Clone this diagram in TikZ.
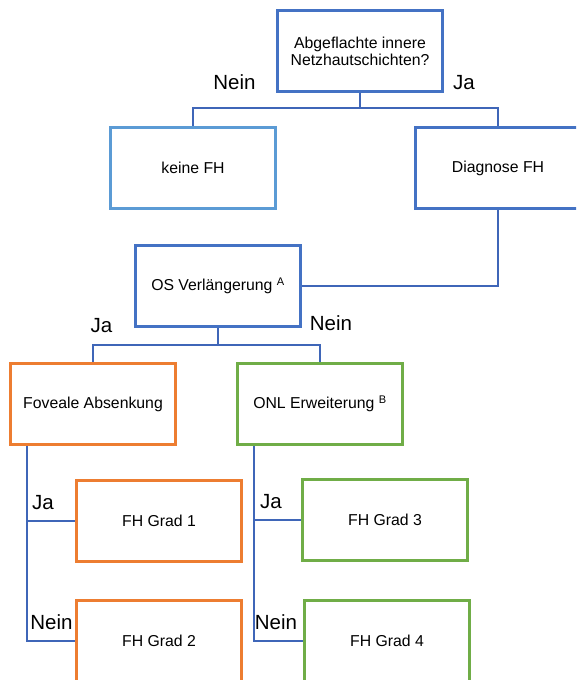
\documentclass[tikz,border=0pt]{standalone}
\usepackage{fontspec}
\setmainfont{Liberation Sans}
\usetikzlibrary{positioning,calc}
\definecolor{boxblue}{HTML}{4472C4}
\definecolor{lightblue}{HTML}{5B9BD5}
\definecolor{lineblue}{HTML}{3F66B8}
\definecolor{boxorange}{HTML}{ED7D31}
\definecolor{boxgreen}{HTML}{70AD47}
\newcommand{\boxfont}{\fontsize{15.8}{16.9}\selectfont}
\newcommand{\lblfont}{\fontsize{20.5}{22}\selectfont}

\begin{document}
\begin{tikzpicture}[x=1pt, y=-1pt]
  \tikzstyle{box}=[draw=boxblue, line width=3pt, align=center, minimum width=165pt, minimum height=81pt, inner sep=0pt, fill=white, font=\boxfont]
  \tikzstyle{lbl}=[font=\lblfont, anchor=base, inner sep=0pt]
  \tikzstyle{link}=[draw=lineblue, line width=2.4pt]
  \clip (0,0) rectangle (576,680);

  % question and first split
  \node[box] (frage) at (360,51) {Abgeflachte innere\\Netzhautschichten?};
  \node[box, draw=lightblue] (keine) at (193,168) {keine FH};
  \node[box] (diag) at (498,168) {Diagnose FH};
  \draw[link] (frage.south) -- ++(0,15) -| (keine.north);
  \draw[link] (frage.south) -- ++(0,15) -| (diag.north);
  \node[lbl] (neinA) at (234.5,89) {Nein};
  \node[lbl] (jaA) at (464,89) {Ja};

  % OS
  \node[box] (os) at (218,286) {OS Verlängerung \textsuperscript{A}};
  \draw[link] (diag.south) |- (os.east);
  \node[box, draw=boxorange] (fov) at (93,404) {Foveale Absenkung};
  \node[box, draw=boxgreen] (onl) at (320,404) {ONL Erweiterung \textsuperscript{B}};
  \draw[link] (os.south) -- ++(0,17) -| (fov.north);
  \draw[link] (os.south) -- ++(0,17) -| (onl.north);
  \node[lbl] (jaB) at (101.5,332) {Ja};
  \node[lbl] (neinB) at (331,330) {Nein};

  % grades
  \node[box, draw=boxorange] (gradone) at (159,521) {FH Grad 1};
  \node[box, draw=boxorange] (gradtwo) at (159,641) {FH Grad 2};
  \node[box, draw=boxgreen] (gradthree) at (385,520) {FH Grad 3};
  \node[box, draw=boxgreen] (gradfour) at (387,641) {FH Grad 4};
  \coordinate (fovtap) at ([xshift=18pt]fov.south west);
  \coordinate (onltap) at ([xshift=18pt]onl.south west);
  \draw[link] (fovtap) |- (gradone.west);
  \draw[link] (fovtap) |- (gradtwo.west);
  \draw[link] (onltap) |- (gradthree.west);
  \draw[link] (onltap) |- (gradfour.west);
  \node[lbl] (jaC) at (43,509.5) {Ja};
  \node[lbl] (neinC) at (51.5,629.3) {Nein};
  \node[lbl] (jaD) at (271,508) {Ja};
  \node[lbl] (neinD) at (276,629.3) {Nein};
\end{tikzpicture}
\end{document}
